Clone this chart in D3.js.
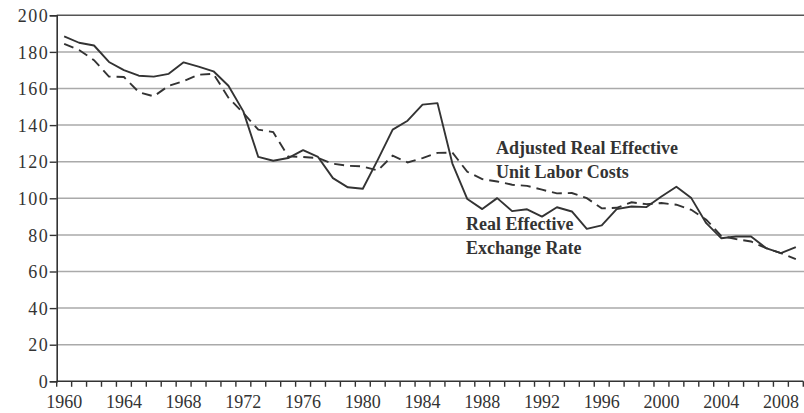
<!DOCTYPE html>
<html>
<head>
<meta charset="utf-8">
<script src="https://cdn.jsdelivr.net/npm/d3@7/dist/d3.min.js"></script>
<style>
  html, body { margin: 0; padding: 0; background: #fff; }
  svg { display: block; }
  text { font-family: "Liberation Serif", "Times New Roman", serif; fill: #333; }
</style>
</head>
<body>
<svg id="chart" width="804" height="413"></svg>
<script>
const years = d3.range(1960, 2010);
const realEffectiveExchangeRate = [
  188.5, 185, 183.5, 174.5, 170, 167, 166.5, 168, 174.3, 172,
  169.4, 161.5, 147.5, 122.6, 120.5, 122, 126.3, 122.6, 111, 106,
  105.2, 121, 137.5, 142.4, 151.2, 152, 119, 99.6, 94.1, 100.1,
  93, 94, 90, 95.1, 92.8, 83.3, 85.2, 94.1, 95.5, 95.2,
  101, 106.3, 100.1, 86.4, 78.2, 79.1, 79.1, 72.8, 70, 73.3
];
const adjustedRealEffectiveULC = [
  184.4, 181, 175.5, 166.5, 166.3, 158, 155.7, 161.5, 164, 167.5,
  168, 155, 146.6, 137.5, 136.2, 122.9, 122.6, 122, 118.9, 117.8,
  117.4, 115.2, 123.3, 119.6, 122, 124.8, 125, 114.5, 110.5, 109.2,
  107.4, 106.8, 104.7, 102.7, 102.9, 100.1, 94.5, 94.8, 97.8, 96.8,
  97.4, 96.5, 93.7, 88.3, 79.5, 77.7, 76.4, 72.8, 70, 66.8
];
const yTicks = d3.range(0, 201, 20);
const xLabelYears = d3.range(1960, 2010, 4);

(function () {
const svg = d3.select("#chart");
const mLeft = 56.7, mRight = 803.3, mTop = 15.3, mBottom = 381.3;

const x = d3.scaleBand().domain(years).range([mLeft, mRight]).padding(0);
const y = d3.scaleLinear().domain([0, 200]).range([mBottom, mTop]);

// gridlines
svg.append("g")
  .selectAll("line")
  .data(yTicks.filter(d => d > 0))
  .join("line")
  .attr("x1", mLeft).attr("x2", 804)
  .attr("y1", d => y(d)).attr("y2", d => y(d))
  .attr("stroke", d => d === 200 ? "#555" : "#aaa")
  .attr("stroke-width", 1.5);

// y axis
const yAxis = svg.append("g")
  .attr("transform", `translate(${mLeft},0)`)
  .call(d3.axisLeft(y).tickValues(yTicks).tickSize(7).tickPadding(2).tickFormat(d3.format("d")));
yAxis.select(".domain").attr("stroke", "#333").attr("stroke-width", 1.6);
yAxis.selectAll(".tick line").attr("stroke", "#333").attr("stroke-width", 1.4);
yAxis.selectAll(".tick text")
  .attr("font-size", 18)
  .attr("fill", "#333")
  .attr("font-family", "Liberation Serif, serif")
  .attr("letter-spacing", 1.5)
  .attr("dx", 1.5)
  .attr("dy", "0.34em");

// x axis with ticks at category boundaries
const xg = svg.append("g");
xg.append("line")
  .attr("x1", mLeft).attr("x2", mRight)
  .attr("y1", mBottom).attr("y2", mBottom)
  .attr("stroke", "#333").attr("stroke-width", 1.6);
const boundaries = years.map(d => x(d)).concat([x(years[years.length - 1]) + x.bandwidth()]);
xg.selectAll("line.tk")
  .data(boundaries)
  .join("line")
  .attr("class", "tk")
  .attr("x1", d => d).attr("x2", d => d)
  .attr("y1", mBottom).attr("y2", mBottom + 5.5)
  .attr("stroke", "#333").attr("stroke-width", 1.4);
xg.selectAll("text")
  .data(xLabelYears)
  .join("text")
  .attr("x", d => x(d) + x.bandwidth() / 2)
  .attr("y", 408)
  .attr("text-anchor", "middle")
  .attr("font-size", 18)
  .text(d => d);

// lines
const line = d3.line()
  .x((d, i) => x(years[i]) + x.bandwidth() / 2)
  .y(d => y(d));

svg.append("path")
  .datum(adjustedRealEffectiveULC)
  .attr("d", line)
  .attr("fill", "none")
  .attr("stroke", "#333")
  .attr("stroke-width", 1.9)
  .attr("stroke-dasharray", "10,6");

svg.append("path")
  .datum(realEffectiveExchangeRate)
  .attr("d", line)
  .attr("fill", "none")
  .attr("stroke", "#333")
  .attr("stroke-width", 1.9)
  .attr("stroke-linejoin", "round");

// annotations
const ann = svg.append("g")
  .attr("font-size", 18)
  .attr("font-weight", "bold");
ann.append("text").attr("x", 496).attr("y", 154).text("Adjusted Real Effective");
ann.append("text").attr("x", 496).attr("y", 178).text("Unit Labor Costs");
ann.append("text").attr("x", 466).attr("y", 230).text("Real Effective");
ann.append("text").attr("x", 466).attr("y", 254).text("Exchange Rate");
})();
</script>
</body>
</html>
